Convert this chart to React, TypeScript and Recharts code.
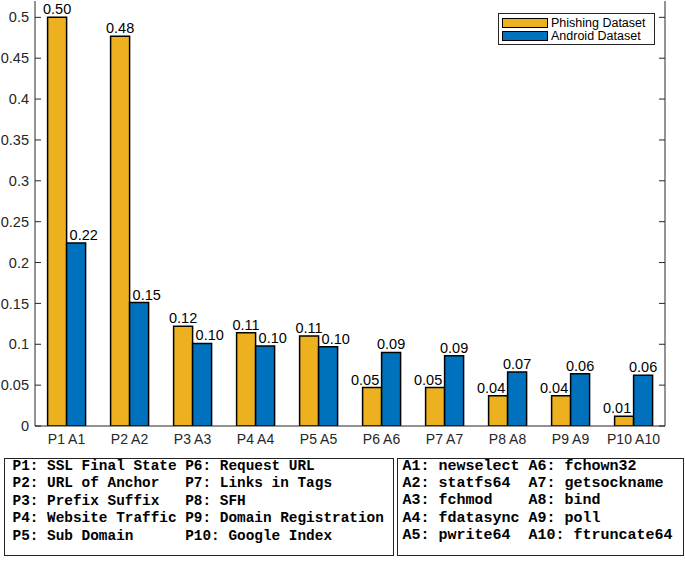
import React from 'react';
import { BarChart, Bar, XAxis, YAxis, Legend, LabelList } from 'recharts';

const categories = ['P1 A1', 'P2 A2', 'P3 A3', 'P4 A4', 'P5 A5', 'P6 A6', 'P7 A7', 'P8 A8', 'P9 A9', 'P10 A10'];
const phishingValues = [0.5, 0.477, 0.122, 0.114, 0.11, 0.047, 0.047, 0.037, 0.037, 0.012];
const androidValues = [0.224, 0.151, 0.101, 0.098, 0.097, 0.09, 0.086, 0.066, 0.064, 0.062];
const yTicks = [0, 0.05, 0.1, 0.15, 0.2, 0.25, 0.3, 0.35, 0.4, 0.45, 0.5];
const seriesNames = ['Phishing Dataset', 'Android Dataset'];

const phishingFeatures = ['SSL Final State', 'URL of Anchor', 'Prefix Suffix', 'Website Traffic', 'Sub Domain',
  'Request URL', 'Links in Tags', 'SFH', 'Domain Registration', 'Google Index'];
const androidFeatures = ['newselect', 'statfs64', 'fchmod', 'fdatasync', 'pwrite64',
  'fchown32', 'getsockname', 'bind', 'poll', 'ftruncate64'];

const colors = { phishing: '#EDB120', android: '#0072BD', axis: '#262626' };

const data = categories.map((name, i) => ({ name, phishing: phishingValues[i], android: androidValues[i] }));

// two-column key text, first five on the left, last five on the right
const keyLines = (prefix: string, names: string[], pad: number) =>
  names.slice(0, 5).map((n, i) =>
    `${prefix}${i + 1}: ${n}`.padEnd(pad) + `${prefix}${i + 6}: ${names[i + 5]}`).join('\n');

const LeftTick = ({ x, y, payload }: any) => (
  <g>
    <text x={x} y={y} dy="0.355em" textAnchor="end" fontSize={14.5} fill={colors.axis}>{String(payload.value)}</text>
    <line x1={x + 6} x2={x + 12} y1={y} y2={y} stroke={colors.axis} />
  </g>
);

const RightTick = ({ x, y }: any) => (
  <line x1={x} x2={x - 6} y1={y} y2={y} stroke={colors.axis} />
);

const TopTick = ({ x, y }: any) => (
  <line x1={x} x2={x} y1={y} y2={y + 6} stroke={colors.axis} />
);

const BottomTick = ({ x, y, payload }: any) => (
  <text x={x} y={y} dy="0.71em" textAnchor="middle" fontSize={14} fill={colors.axis}>{payload.value}</text>
);

const phishingLabel = (props: any) => {
  const { x, y, width, value, index } = props;
  const cx = x + width / 2 - (index >= 5 ? 7 : 0);
  return <text x={cx} y={y - 3} textAnchor="middle" fontSize={14.5} fill="#000">{Number(value).toFixed(2)}</text>;
};

const androidLabel = (props: any) => {
  const { x, y, width, value, index } = props;
  const left = index < 5;
  return (
    <text x={left ? x + 3 : x + width / 2} y={y - 3} textAnchor={left ? 'start' : 'middle'} fontSize={14.5} fill="#000">
      {Number(value).toFixed(2)}
    </text>
  );
};

const LegendBox = ({ payload }: any) => {
  const items = seriesNames.map(n => (payload || []).find((p: any) => p.value === n)).filter(Boolean);
  return (
    <div style={{ border: `1px solid ${colors.axis}`, background: '#fff', padding: '2px 3px', boxSizing: 'border-box', width: 157 }}>
      {items.map((entry: any) => (
        <div key={entry.value} style={{ display: 'flex', alignItems: 'center', height: 13 }}>
          <span style={{ width: 46, height: 10, boxSizing: 'border-box', background: entry.color, border: '1.5px solid #000', marginRight: 3 }} />
          <span style={{ fontSize: 12.5, lineHeight: '12px', color: '#000' }}>{entry.value}</span>
        </div>
      ))}
    </div>
  );
};

const boxStyle: React.CSSProperties = {
  position: 'absolute', top: 458, height: 98, boxSizing: 'border-box', border: '1.5px solid #222',
  fontFamily: '"Liberation Mono", monospace', fontWeight: 'bold', whiteSpace: 'pre', color: '#000',
};

export default function App() {
  return (
    <div style={{ position: 'absolute', left: 0, top: 0, width: 685, height: 561, background: '#fff', fontFamily: '"Liberation Sans", Arial, sans-serif' }}>
      <BarChart width={685} height={455} data={data} margin={{ top: 1, right: 0, bottom: 1, left: 0 }}
        barCategoryGap="20%" barGap={0}>
        <XAxis dataKey="name" height={28} tickSize={0} tickMargin={8} tick={BottomTick} stroke={colors.axis} />
        <XAxis xAxisId="top" dataKey="name" orientation="top" height={0} tickSize={0} tickMargin={0} tick={TopTick} stroke={colors.axis} />
        <YAxis width={35} domain={[0, 0.52]} ticks={yTicks} allowDataOverflow tickSize={0} tickMargin={6} tick={LeftTick} stroke={colors.axis} />
        <YAxis yAxisId="right" orientation="right" width={20} domain={[0, 0.52]} ticks={yTicks} allowDataOverflow tickSize={0} tickMargin={0} tick={RightTick} stroke={colors.axis} />
        <Legend layout="vertical" align="center" verticalAlign="middle" content={LegendBox}
          wrapperStyle={{ top: 13, left: 498, width: 157 }} />
        <Bar dataKey="phishing" name={seriesNames[0]} fill={colors.phishing} stroke="#000" strokeWidth={1.5} isAnimationActive={false}>
          <LabelList dataKey="phishing" content={phishingLabel} />
        </Bar>
        <Bar dataKey="android" name={seriesNames[1]} fill={colors.android} stroke="#000" strokeWidth={1.5} isAnimationActive={false}>
          <LabelList dataKey="android" content={androidLabel} />
        </Bar>
      </BarChart>
      <div style={{ ...boxStyle, left: 4, width: 390, fontSize: 14.4, lineHeight: '17.4px', padding: '0 0 0 7.5px' }}>
        <div style={{ position: 'relative', top: -1 }}>{keyLines('P', phishingFeatures, 20)}</div>
      </div>
      <div style={{ ...boxStyle, left: 397, width: 287, fontSize: 15, lineHeight: '17.2px', padding: '0 0 0 4.5px' }}>
        <div style={{ position: 'relative', top: -1 }}>{keyLines('A', androidFeatures, 14)}</div>
      </div>
    </div>
  );
}
